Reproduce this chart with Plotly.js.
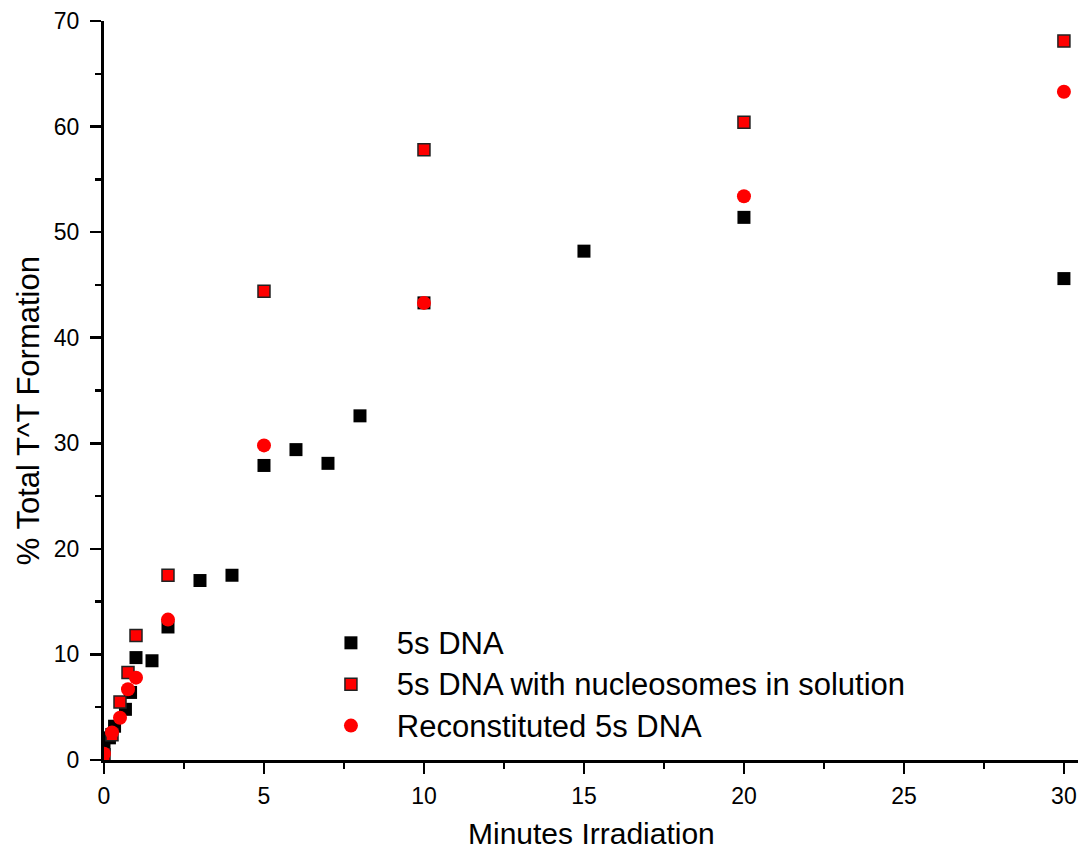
<!DOCTYPE html>
<html>
<head>
<meta charset="utf-8">
<script src="https://cdn.plot.ly/plotly-3.0.1.min.js"></script>
<style>html,body{margin:0;padding:0;background:#fff;}#chart{width:1084px;height:853px;}</style>
</head>
<body>
<div id="chart"></div>
<script>
// 5s DNA
var dnaX = [0, 0.17, 0.33, 0.67, 0.83, 1, 1.5, 2, 3, 4, 5, 6, 7, 8, 10, 15, 20, 30];
var dnaY = [1.2, 2.1, 3.2, 4.8, 6.4, 9.7, 9.4, 12.6, 17.0, 17.5, 27.9, 29.4, 28.1, 32.6, 43.3, 48.2, 51.4, 45.6];
// 5s DNA with nucleosomes in solution
var nucX = [0, 0.25, 0.5, 0.75, 1, 2, 5, 10, 20, 30];
var nucY = [0.5, 2.4, 5.5, 8.3, 11.8, 17.5, 44.4, 57.8, 60.4, 68.1];
// Reconstituted 5s DNA
var recX = [0, 0.25, 0.5, 0.75, 1, 2, 5, 10, 20, 30];
var recY = [0.6, 2.6, 4.0, 6.7, 7.8, 13.3, 29.8, 43.3, 53.4, 63.3];

var names = ['5s DNA', '5s DNA with nucleosomes in solution', 'Reconstituted 5s DNA'];
function legName(s) { return '<span style="font-size:31px">\u00a0\u00a0\u00a0' + s + '</span>'; }

var traces = [
  {x: dnaX, y: dnaY, name: legName(names[0]), mode: 'markers', type: 'scatter', legendgroup: 'a',
   marker: {symbol: 'square', size: 13, color: '#000000', line: {width: 0}}},
  {x: nucX, y: nucY, name: legName(names[1]), mode: 'markers', type: 'scatter', legendgroup: 'b',
   marker: {symbol: 'square', size: 12, color: '#ff0000', line: {width: 1.5, color: '#222222'}}},
  {x: recX, y: recY, name: legName(names[2]), mode: 'markers', type: 'scatter', legendgroup: 'c',
   marker: {symbol: 'circle', size: 14, color: '#ff0000', line: {width: 0}}}
];

var fontFam = 'Liberation Sans, Arial, sans-serif';
var layout = {
  width: 1084, height: 853,
  margin: {l: 104, r: 6, t: 21, b: 93},
  paper_bgcolor: '#ffffff', plot_bgcolor: '#ffffff',
  font: {family: fontFam, color: '#000000', size: 23},
  showlegend: true,
  legend: {x: 0.233, y: 0.192, xanchor: 'left', yanchor: 'top', bgcolor: 'rgba(0,0,0,0)',
           font: {size: 28, family: fontFam}, tracegroupgap: 2},
  xaxis: {range: [0, 30.44], showgrid: false, zeroline: false, showline: true, linecolor: '#000', linewidth: 3,
          ticks: 'outside', ticklen: 11, tickwidth: 2.5, tickcolor: '#000', tick0: 0, dtick: 5,
          minor: {ticks: 'outside', ticklen: 6, tickwidth: 2.5, tickcolor: '#000', dtick: 2.5, showgrid: false},
          tickfont: {size: 23}, ticklabelstandoff: 2},
  yaxis: {range: [0, 70], showgrid: false, zeroline: false, showline: true, linecolor: '#000', linewidth: 3,
          ticks: 'outside', ticklen: 11, tickwidth: 2.5, tickcolor: '#000', tick0: 0, dtick: 10,
          minor: {ticks: 'outside', ticklen: 6, tickwidth: 2.5, tickcolor: '#000', dtick: 5, showgrid: false},
          tickfont: {size: 23}, ticklabelstandoff: 6},
  annotations: [
    {text: 'Minutes Irradiation', xref: 'paper', yref: 'paper', x: 0.5, y: -0.099, xanchor: 'center', yanchor: 'middle',
     showarrow: false, font: {size: 30}},
    {text: '% Total T^T Formation', xref: 'paper', yref: 'paper', x: -0.078, y: 0.472, xanchor: 'center', yanchor: 'middle',
     textangle: -90, showarrow: false, font: {size: 31}}
  ]
};

Plotly.newPlot('chart', traces, layout, {displayModeBar: false, staticPlot: true});
</script>
</body>
</html>
